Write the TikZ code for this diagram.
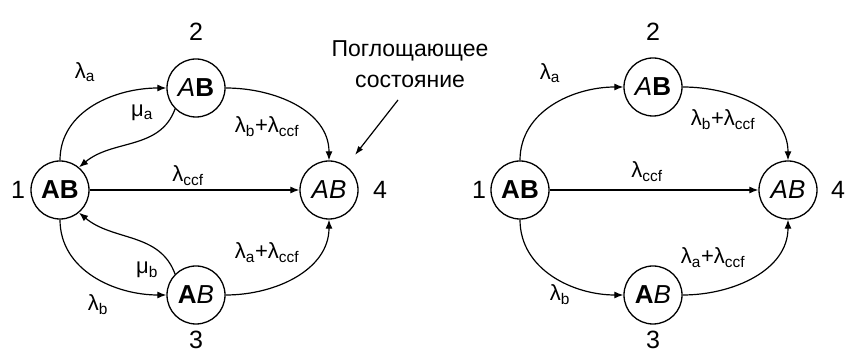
\documentclass[tikz,border=0pt]{standalone}
\usepackage{fontspec}
\setmainfont{Liberation Sans}
\usetikzlibrary{positioning,arrows.meta}
\newcommand{\lam}[1]{λ\textsubscript{#1}}
\newcommand{\mur}[1]{μ\textsubscript{#1}}

\begin{document}
\begin{tikzpicture}[x=1pt, y=1pt,
  state/.style={circle, draw, line width=1.3pt, minimum size=58pt, inner sep=0pt, font=\fontsize{26}{26}\selectfont},
  num/.style={font=\fontsize{25}{25}\selectfont, inner sep=1pt},
  rate/.style={font=\fontsize{22}{22}\selectfont},
  edge/.style={-{Latex[length=9pt,width=7pt]}, line width=1.2pt}]
\useasboundingbox (0,0) rectangle (846,353);
% left graph, with repair
\node[state] (l1) at (60,163) {\textbf{AB}};
\node[state] (l2) at (196,265) {\textit{A}\textbf{B}};
\node[state] (l3) at (196,58) {\textbf{A}\textit{B}};
\node[state] (l4) at (329,163) {\textit{AB}};
\node[num] (ln1) at (18,163) {1};
\node[num] (ln2) at (196,321) {2};
\node[num] (ln3) at (196,13) {3};
\node[num] (ln4) at (380,163) {4};
\draw[edge] (l1) to[out=90, in=180] (l2);
\draw[edge] (l2.225) to[out=250, in=40] (l1.50);
\draw[edge] (l2) to[out=0, in=90] (l4);
\draw[edge] (l1) -- (l4);
\draw[edge] (l1) to[out=-90, in=180] (l3);
\draw[edge] (l3.135) to[out=110, in=-40] (l1.-50);
\draw[edge] (l3) to[out=0, in=-90] (l4);
\node[rate] (la) at (85,281) {\lam{a}};
\node[rate] (lma) at (142,240) {\mur{a}};
\node[rate] (lb4) at (267,226) {\lam{b}+\lam{ccf}};
\node[rate] (lc) at (188,177) {\lam{ccf}};
\node[rate] (la4) at (267,100) {\lam{a}+\lam{ccf}};
\node[rate] (lmb) at (147,83) {\mur{b}};
\node[rate] (lb) at (98,48) {\lam{b}};
% absorbing state
\node[font=\fontsize{23}{31}\selectfont, align=center] (abs) at (410,289) {Поглощающее\\состояние};
\coordinate (abstip) at (355,198);
\draw[-{Latex[length=9pt,width=6pt]}, line width=1.2pt] (398,253) -- (abstip);
% right graph, no repair
\node[state] (r1) at (520,163) {\textbf{AB}};
\node[state] (r2) at (653,266) {\textit{A}\textbf{B}};
\node[state] (r3) at (653,58) {\textbf{A}\textit{B}};
\node[state] (r4) at (788,163) {\textit{AB}};
\node[num] (rn1) at (479,163) {1};
\node[num] (rn2) at (653,321) {2};
\node[num] (rn3) at (653,13) {3};
\node[num] (rn4) at (838,163) {4};
\draw[edge] (r1) to[out=90, in=180] (r2);
\draw[edge] (r2) to[out=0, in=90] (r4);
\draw[edge] (r1) -- (r4);
\draw[edge] (r1) to[out=-90, in=180] (r3);
\draw[edge] (r3) to[out=0, in=-90] (r4);
\node[rate] (ra) at (550,280) {\lam{a}};
\node[rate] (rb4) at (723,233) {\lam{b}+\lam{ccf}};
\node[rate] (rc) at (647,181) {\lam{ccf}};
\node[rate] (ra4) at (713,95) {\lam{a}+\lam{ccf}};
\node[rate] (rb) at (560,58) {\lam{b}};
\end{tikzpicture}
\end{document}
